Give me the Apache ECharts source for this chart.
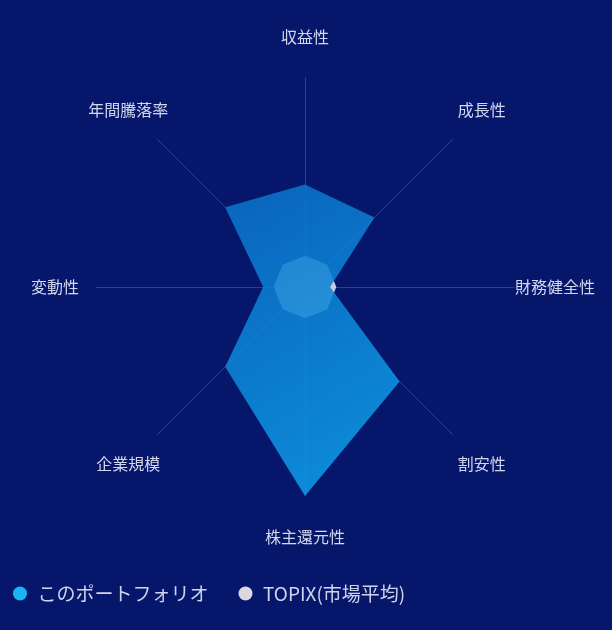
<!DOCTYPE html>
<html>
<head>
<meta charset="utf-8">
<script src="https://cdn.jsdelivr.net/npm/echarts@6/dist/echarts.min.js"></script>
<style>
  html, body { margin: 0; padding: 0; background: #06166b; }
  #chart { width: 612px; height: 630px; }
</style>
</head>
<body>
<div id="chart"></div>
<script>
// axes, counter-clockwise from the top
const axisNames = ["収益性", "年間騰落率", "変動性", "企業規模", "株主還元性", "割安性", "財務健全性", "成長性"];
const portfolioValues = [49, 54, 20, 54, 100, 64, 12, 47];
const topixValues = [15, 15, 15, 15, 15, 15, 15, 15];
const seriesNames = ["このポートフォリオ", "TOPIX(市場平均)"];
const maxValue = 100;

const chart = echarts.init(document.getElementById("chart"));

const option = {
  backgroundColor: "#06166b",
  animation: false,
  textStyle: { fontFamily: "Noto Sans CJK JP" },
  legend: {
    left: 8,
    bottom: 22,
    itemWidth: 25,
    itemHeight: 14,
    itemGap: 30,
    icon: "circle",
    data: [
      { name: seriesNames[0], itemStyle: { color: "#18b4f4" } },
      { name: seriesNames[1], itemStyle: { color: "#d9d9df" } },
    ],
    textStyle: { color: "#cfd4ec", fontSize: 19, fontFamily: "Noto Sans CJK JP" },
  },
  radar: {
    center: [305, 287],
    radius: 209,
    startAngle: 90,
    shape: "polygon",
    nameGap: 41,
    indicator: axisNames.map((name) => ({ name, max: maxValue, min: 0 })),
    axisName: {
      color: "#d2d7ee",
      fontSize: 16,
      fontFamily: "Noto Sans CJK JP",
      align: "center",
      verticalAlign: "middle",
    },
    axisLine: { lineStyle: { color: "rgba(90,110,210,0.45)", width: 1 } },
    splitLine: { show: false },
    splitArea: { show: false },
  },
  series: [
    {
      type: "radar",
      symbol: "none",
      data: [
        {
          name: seriesNames[1],
          value: topixValues,
          lineStyle: { width: 0 },
          itemStyle: { color: "#d9d9df" },
          areaStyle: { color: "rgba(200,200,222,1)", opacity: 1 },
        },
        {
          name: seriesNames[0],
          value: portfolioValues,
          lineStyle: { width: 0 },
          itemStyle: { color: "#18b4f4" },
          areaStyle: {
            opacity: 1,
            color: new echarts.graphic.LinearGradient(0, 0, 1, 1, [
              { offset: 0, color: "rgba(10,112,200,0.87)" },
              { offset: 1, color: "rgba(14,162,236,0.87)" },
            ]),
          },
        },
      ],
    },
  ],
};

chart.setOption(option);
</script>
</body>
</html>
